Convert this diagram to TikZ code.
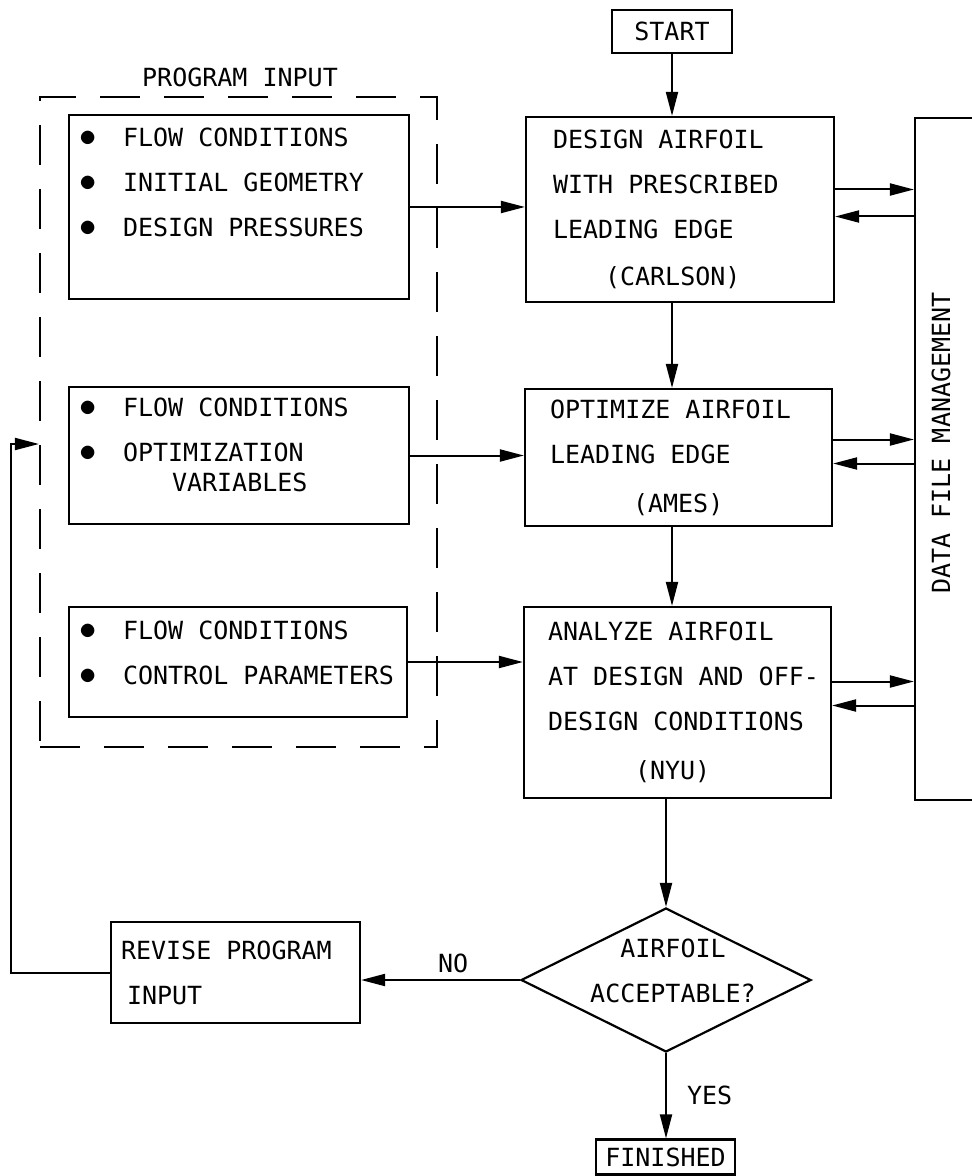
\documentclass[tikz,border=0pt]{standalone}
\usepackage{fontspec}
\setmainfont{DejaVu Sans Mono}
\usetikzlibrary{arrows.meta,shapes.geometric}
\newcommand\dotitem{\makebox[22pt][l]{\fontsize{17pt}{17pt}\selectfont$\bullet$}}
\newcommand\padbelow[1]{\rule[-#1]{0pt}{#1}}

\begin{document}
\begin{tikzpicture}[x=0.5pt,y=-0.5pt,
  every node/.style={font=\fontsize{12.5pt}{22.5pt}\selectfont,
    execute at begin node={\spaceskip=0pt\xspaceskip=0pt}},
  box/.style={draw,rectangle,line width=1.1pt,inner sep=0pt},
  stepbox/.style={box,align=left,inner xsep=12.5pt},
  inputbox/.style={box,align=left,inner xsep=5pt,text width=160pt,minimum width=170pt},
  frame/.style={draw,rectangle,line width=1.1pt,dash pattern=on 20pt off 12pt},
  decision/.style={draw,diamond,line width=1.1pt,inner sep=0pt},
  arr/.style={-{Triangle[length=12pt,width=6pt]},line width=1pt},
  lbl/.style={inner sep=3pt}]
\useasboundingbox (0,0) rectangle (971,1176);
% program input
\node[frame,minimum width=198.5pt,minimum height=325pt] (inputs) at (238.5,422) {};
\node (inputslabel) at (240,77) {PROGRAM INPUT};
\node[inputbox,minimum height=92pt] (inA) at (239,207) {\dotitem FLOW CONDITIONS\\\dotitem INITIAL GEOMETRY\\\dotitem DESIGN PRESSURES\padbelow{25pt}};
\node[inputbox,minimum height=68.5pt] (inB) at (239,455.5) {\dotitem FLOW CONDITIONS\\\dotitem OPTIMIZATION\\[-7.5pt]\hspace*{46.5pt}VARIABLES\padbelow{11pt}};
\node[inputbox,text width=159pt,minimum width=169pt,minimum height=55pt] (inC) at (238,662) {\dotitem FLOW CONDITIONS\\\dotitem \mbox{CONTROL PARAMETERS}\padbelow{9.5pt}};
% main steps
\node[box,minimum width=60pt,minimum height=21.5pt] (start) at (672,31.5) {START};
\node[stepbox,inner xsep=13.5pt,text width=127pt,minimum height=92.5pt] (design) at (680,209.5) {DESIGN AIRFOIL\\WITH PRESCRIBED\\LEADING EDGE\\[1pt]\hspace*{26pt}(CARLSON)};
\node[stepbox,text width=128.5pt,minimum height=68.5pt] (optimize) at (678.5,457.5) {\mbox{OPTIMIZE AIRFOIL}\\LEADING EDGE\\[2pt]\hspace*{41.5pt}(AMES)};
\node[stepbox,inner xsep=12pt,text width=129.5pt,minimum height=95.5pt] (analyze) at (677.5,702.5) {ANALYZE AIRFOIL\\\mbox{AT DESIGN AND OFF-}\\\mbox{DESIGN CONDITIONS}\\[2pt]\hspace*{43.5pt}(NYU)};
\node[box,minimum width=35pt,minimum height=341pt] (dfm) at (950,459) {};
\node[rotate=90] (dfmlabel) at (941,443) {DATA FILE MANAGEMENT};
\node[decision,minimum width=145pt,minimum height=72pt] (accept) at (666,980) {};
\node[align=center] (accepttext) at (673,970.5) {AIRFOIL\\ACCEPTABLE?};
\node[stepbox,inner xsep=5pt,text width=114.5pt,minimum height=50.5pt] (revise) at (235.5,972.5) {\mbox{REVISE PROGRAM}\\\hspace*{3pt}INPUT};
\node[box,minimum width=69.5pt,minimum height=17.5pt] (finish) at (665.5,1157) {FINISHED};
\coordinate (back) at (11,444);
% connectors
\draw[arr] (start.south) -- (start.south |- design.north);
\draw[arr] (start.south |- design.south) -- (start.south |- optimize.north);
\draw[arr] (start.south |- optimize.south) -- (start.south |- analyze.north);
\draw[arr] (inA.east) -- (inA.east -| design.west);
\draw[arr] (inB.east) -- (inB.east -| optimize.west);
\draw[arr] (inC.east) -- (inC.east -| analyze.west);
\draw[arr] ([yshift=10pt]design.east) -- ([yshift=10pt]design.east -| dfm.west);
\draw[arr] ([yshift=-3.5pt]design.east -| dfm.west) -- ([yshift=-3.5pt]design.east);
\draw[arr] ([yshift=9pt]optimize.east) -- ([yshift=9pt]optimize.east -| dfm.west);
\draw[arr] ([yshift=-3pt]optimize.east -| dfm.west) -- ([yshift=-3pt]optimize.east);
\draw[arr] ([yshift=10.5pt]analyze.east) -- ([yshift=10.5pt]analyze.east -| dfm.west);
\draw[arr] ([yshift=-1.5pt]analyze.east -| dfm.west) -- ([yshift=-1.5pt]analyze.east);
\draw[arr] (analyze.south -| accept.north) -- (accept.north);
\draw[arr] (accept.west) -- (revise.east |- accept.west) node[lbl,pos=0.42,above] {NO};
\draw[arr] (accept.south) -- (accept.south |- finish.north) node[lbl,midway,right=7pt] {YES};
\draw[arr] (revise.west) -| (back) -- (back -| inputs.west);
\end{tikzpicture}
\end{document}
